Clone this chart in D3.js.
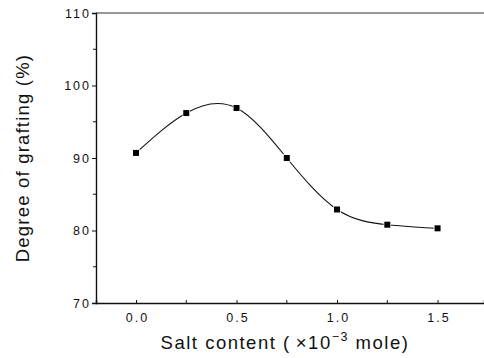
<!DOCTYPE html>
<html>
<head>
<meta charset="utf-8">
<script src="https://cdn.jsdelivr.net/npm/d3@7"></script>
<style>
  body { margin: 0; background: #fff; }
  svg { display: block; font-family: "Liberation Sans", Arial, sans-serif; }
</style>
</head>
<body>
<div id="chart"></div>
<script>
// Salt content (x10^-3 mole) vs degree of grafting (%)
const saltContent = [0.0, 0.25, 0.5, 0.75, 1.0, 1.25, 1.5];
const grafting = [90.7, 96.2, 96.9, 90.0, 82.9, 80.8, 80.3];

const xTicks = [0.0, 0.5, 1.0, 1.5];
const xMinorTicks = [0.25, 0.75, 1.25];
const yTicks = [70, 80, 90, 100, 110];
const yMinorTicks = [75, 85, 95, 105];

const width = 484;
const height = 358;
const margin = { top: 13, right: 0, bottom: 55, left: 96 };

const svg = d3.select('#chart')
  .append('svg')
  .attr('width', width)
  .attr('height', height);

// x: 0.0 sits at ~136px, the axis starts a bit left of zero
const x = d3.scaleLinear()
  .domain([-0.199, 1.731])
  .range([margin.left, width - margin.right]);

const y = d3.scaleLinear()
  .domain([70, 110])
  .range([height - margin.bottom, margin.top]);

const axisColor = '#111';

// top frame line
svg.append('line')
  .attr('x1', margin.left).attr('x2', width)
  .attr('y1', y(110)).attr('y2', y(110))
  .attr('stroke', '#333')
  .attr('stroke-width', 1.2);

// bottom axis
const xAxis = svg.append('g')
  .attr('transform', `translate(0,${y(70)})`)
  .call(d3.axisBottom(x).tickValues(xTicks).tickSize(-3).tickPadding(10.5)
    .tickFormat(d3.format('.1f')));
xAxis.select('.domain').attr('stroke', axisColor).attr('stroke-width', 1.4);
xAxis.selectAll('.tick line').attr('stroke', axisColor);
xAxis.selectAll('text')
  .attr('font-size', 12.5)
  .attr('letter-spacing', 2)
  .attr('dx', 1)
  .attr('fill', '#111');

svg.append('g')
  .attr('transform', `translate(0,${y(70)})`)
  .selectAll('line')
  .data(xMinorTicks)
  .join('line')
  .attr('x1', d => x(d)).attr('x2', d => x(d))
  .attr('y1', 0).attr('y2', -3)
  .attr('stroke', axisColor);

// left axis
const yAxis = svg.append('g')
  .attr('transform', `translate(${margin.left},0)`)
  .call(d3.axisLeft(y).tickValues(yTicks).tickSize(4).tickPadding(1));
yAxis.select('.domain').attr('stroke', axisColor).attr('stroke-width', 1.4);
yAxis.selectAll('.tick line').attr('stroke', axisColor);
yAxis.selectAll('text')
  .attr('font-size', 12.5)
  .attr('letter-spacing', 2)
  .attr('fill', '#111');

svg.append('g')
  .selectAll('line')
  .data(yMinorTicks)
  .join('line')
  .attr('x1', margin.left - 3).attr('x2', margin.left)
  .attr('y1', d => y(d)).attr('y2', d => y(d))
  .attr('stroke', axisColor);

// smooth curve through the points
const line = d3.line()
  .x((d, i) => x(saltContent[i]))
  .y(d => y(d))
  .curve(d3.curveNatural);

svg.append('path')
  .datum(grafting)
  .attr('fill', 'none')
  .attr('stroke', '#111')
  .attr('stroke-width', 1.1)
  .attr('d', line);

// square markers with a small white halo
const size = 6;
svg.append('g')
  .selectAll('rect')
  .data(grafting)
  .join('rect')
  .attr('x', (d, i) => x(saltContent[i]) - size / 2)
  .attr('y', d => y(d) - size / 2)
  .attr('width', size)
  .attr('height', size)
  .attr('fill', '#000')
  .attr('stroke', '#fff')
  .attr('stroke-width', 1.5)
  .attr('paint-order', 'stroke');

// axis titles
const xTitle = svg.append('text')
  .attr('x', 285)
  .attr('y', 349)
  .attr('text-anchor', 'middle')
  .attr('font-size', 18.5)
  .attr('letter-spacing', 1.5)
  .attr('fill', '#111');
xTitle.append('tspan').text('Salt content (\u2009\u00d710');
xTitle.append('tspan').attr('dy', -8).attr('font-size', 12.5).text('\u22123');
xTitle.append('tspan').attr('dy', 8).text(' mole)');

svg.append('text')
  .attr('transform', `translate(29,158) rotate(-90)`)
  .attr('text-anchor', 'middle')
  .attr('font-size', 18.5)
  .attr('letter-spacing', 1.2)
  .attr('fill', '#111')
  .text('Degree of grafting (%)');
</script>
</body>
</html>
